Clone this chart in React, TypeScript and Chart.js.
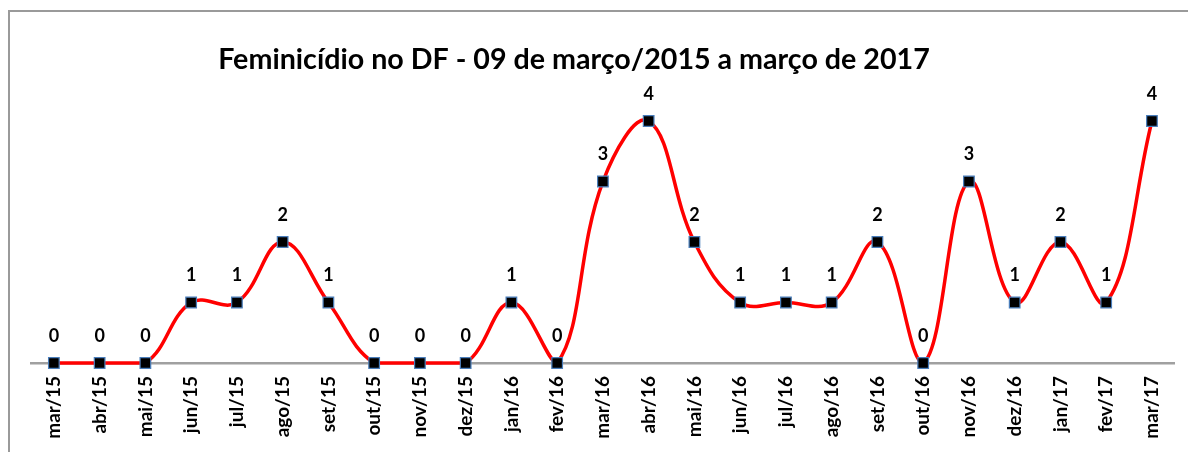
import React, { useEffect, useRef } from "react";
import { Chart, registerables } from "chart.js";

Chart.register(...registerables);

const TITLE = "Feminicídio no DF - 09 de março/2015 a março de 2017";

const months: string[] = [
  "mar/15", "abr/15", "mai/15", "jun/15", "jul/15", "ago/15", "set/15",
  "out/15", "nov/15", "dez/15", "jan/16", "fev/16", "mar/16", "abr/16",
  "mai/16", "jun/16", "jul/16", "ago/16", "set/16", "out/16", "nov/16",
  "dez/16", "jan/17", "fev/17", "mar/17",
];

const cases: number[] = [
  0, 0, 0, 1, 1, 2, 1, 0, 0, 0, 1, 0, 3, 4, 2, 1, 1, 1, 2, 0, 3, 1, 2, 1, 4,
];

const FONT = "Lato, 'Open Sans', sans-serif";

const framePlugin = {
  id: "frame",
  beforeDraw(chart: any) {
    const ctx = chart.ctx;
    ctx.save();
    ctx.strokeStyle = "#9a9a9a";
    ctx.lineWidth = 2;
    ctx.beginPath();
    ctx.moveTo(9, chart.height);
    ctx.lineTo(9, 11);
    ctx.lineTo(chart.width, 11);
    ctx.stroke();
    ctx.restore();
  },
  afterDraw(chart: any) {
    const ctx = chart.ctx;
    ctx.save();
    ctx.fillStyle = "#000";
    ctx.textAlign = "center";
    ctx.textBaseline = "middle";
    let size = 24;
    ctx.font = `bold ${size}px ${FONT}`;
    const w = ctx.measureText(TITLE).width;
    size = size * (712 / w);
    ctx.font = `bold ${size}px ${FONT}`;
    ctx.fillText(TITLE, 574, 60);

    // data labels
    const meta = chart.getDatasetMeta(0);
    ctx.font = `bold 18px ${FONT}`;
    meta.data.forEach((pt: any, i: number) => {
      ctx.fillText(String(cases[i]), pt.x, pt.y - 27);
    });
    ctx.restore();
  },
};

export default function App() {
  const ref = useRef<HTMLCanvasElement | null>(null);

  useEffect(() => {
    document.body.style.margin = "0";
    const canvas = ref.current!;
    const chart = new Chart(canvas, {
      type: "line",
      data: {
        labels: months,
        datasets: [
          {
            data: cases,
            borderColor: "#ff0000",
            borderWidth: 3.5,
            tension: 0.4,
            pointStyle: "rect",
            pointRadius: 7.5,
            pointBackgroundColor: "#000000",
            pointBorderColor: "#4a7ebb",
            pointBorderWidth: 1.2,
            clip: false,
            fill: false,
          } as any,
        ],
      },
      options: {
        animation: false,
        responsive: false,
        maintainAspectRatio: false,
        layout: { padding: { left: 31, right: 13, top: 80, bottom: 0 } },
        plugins: {
          legend: { display: false },
          title: { display: false },
          tooltip: { enabled: false },
        },
        scales: {
          x: {
            offset: true,
            grid: { display: false, drawTicks: false },
            border: { display: true, color: "#a0a0a0", width: 2.5 },
            ticks: {
              maxRotation: 90,
              minRotation: 90,
              autoSkip: false,
              padding: 13,
              color: "#000",
              font: { family: FONT, weight: "bold", size: 19 },
            },
            afterFit(scale: any) {
              scale.height = 89;
            },
          },
          y: {
            display: false,
            min: 0,
            max: 4.678,
          },
        },
      },
      plugins: [framePlugin],
    });
    return () => chart.destroy();
  }, []);

  return (
    <div style={{ width: 1188, height: 452 }}>
      <canvas ref={ref} width={1188} height={452} style={{ display: "block" }} />
    </div>
  );
}
